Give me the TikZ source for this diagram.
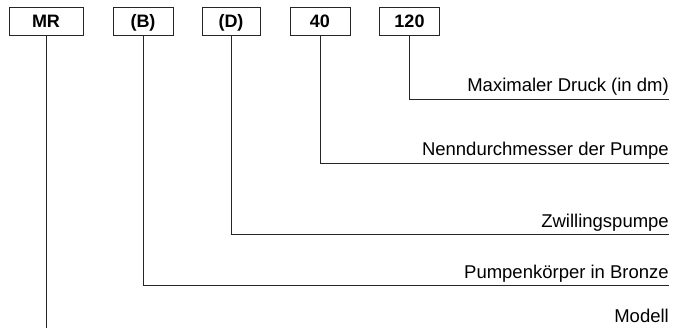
\documentclass[tikz,border=0pt]{standalone}
\usepackage{fontspec}
\setmainfont{Liberation Sans}
\begin{document}
\begin{tikzpicture}[x=1pt,y=-1pt,
  codebox/.style={draw=black!85,line width=0.9pt,minimum height=28pt,inner sep=0pt,
    text height=12.9pt,text depth=0pt,
    font=\fontsize{18}{20}\selectfont\bfseries},
  lbl/.style={anchor=base east,inner sep=0pt,font=\fontsize{18.5}{20}\selectfont},
  conn/.style={draw=black!85,line width=0.9pt}]
\useasboundingbox (0,0) rectangle (673,329);
\node[codebox,minimum width=74pt] (mr) at (46,21) {MR};
\node[codebox,minimum width=60pt] (b) at (143,21) {(B)};
\node[codebox,minimum width=58pt] (d) at (231,21) {(D)};
\node[codebox,minimum width=60pt] (n) at (320,21) {40};
\node[codebox,minimum width=60pt] (p) at (409.5,21) {120};
\coordinate (ep) at (669,99);
\coordinate (en) at (669,163);
\coordinate (ed) at (669,234.5);
\coordinate (eb) at (669,285.5);
\coordinate (emr) at (46,328);
\node[lbl] (lp) at (669,92) {Maximaler Druck (in dm)};
\node[lbl] (ln) at (669,156) {Nenndurchmesser der Pumpe};
\node[lbl] (ld) at (669,227) {Zwillingspumpe};
\node[lbl] (lb) at (669,278) {Pumpenkörper in Bronze};
\node[lbl] (lm) at (669,322) {Modell};
\draw[conn] (p.south) |- (ep);
\draw[conn] (n.south) |- (en);
\draw[conn] (d.south) |- (ed);
\draw[conn] (b.south) |- (eb);
\draw[conn] (mr.south) -- (emr);
\end{tikzpicture}
\end{document}
